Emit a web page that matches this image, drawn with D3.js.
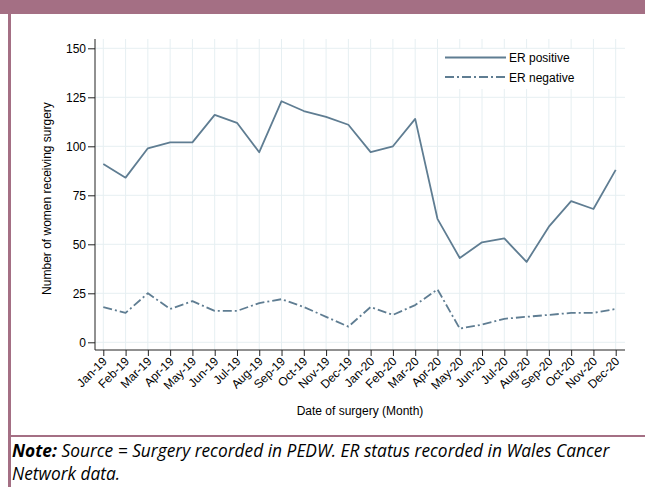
<!DOCTYPE html>
<html>
<head>
<meta charset="utf-8">
<title>ER status surgery</title>
<script src="https://cdnjs.cloudflare.com/ajax/libs/d3/7.8.5/d3.min.js"></script>
<style>
body { margin: 0; background: #fff; }
svg { display: block; }
.axis text { font-family: "Liberation Sans", Arial, sans-serif; font-size: 12px; fill: #000; }
.axis path, .axis line { stroke: #222; }
.grid line { stroke: #e6eff2; stroke-width: 1; }
.title { font-family: "Liberation Sans", Arial, sans-serif; font-size: 12px; fill: #000; }
.note { font-family: "Open Sans", "Noto Sans", sans-serif; font-style: italic; fill: #000; }
</style>
</head>
<body>
<svg width="645" height="487"></svg>
<script>
var months = ["Jan-19","Feb-19","Mar-19","Apr-19","May-19","Jun-19","Jul-19","Aug-19","Sep-19","Oct-19","Nov-19","Dec-19",
              "Jan-20","Feb-20","Mar-20","Apr-20","May-20","Jun-20","Jul-20","Aug-20","Sep-20","Oct-20","Nov-20","Dec-20"];
var erPositive = [91,84,99,102,102,116,112,97,123,118,115,111, 97,100,114,63,43,51,53,41,59,72,68,88];
var erNegative = [18,15,25,17,21,16,16,20,22,18,13,8, 18,14,19,27,7,9,12,13,14,15,15,17];
var yTicks = [0,25,50,75,100,125,150];
var seriesNames = ["ER positive", "ER negative"];

var frameColor = "#a46f84";
var lineColor = "#5f7d92";

var svg = d3.select("svg");

// frame
svg.append("rect").attr("x", 0).attr("y", 0).attr("width", 645).attr("height", 14).attr("fill", frameColor);
svg.append("rect").attr("x", 8).attr("y", 0).attr("width", 3).attr("height", 487).attr("fill", frameColor);
svg.append("rect").attr("x", 8).attr("y", 435).attr("width", 637).attr("height", 2).attr("fill", frameColor);

var x = d3.scalePoint().domain(months).range([103.3, 615.7]);
var y = d3.scaleLinear().domain([0, 150]).range([342.3, 48.3]);
var pLeft = 95, pRight = 625, pTop = 39, pBottom = 350;

// grid
var grid = svg.append("g").attr("class", "grid");
grid.selectAll(".h").data(yTicks).enter().append("line")
  .attr("x1", pLeft).attr("x2", pRight)
  .attr("y1", function(d) { return y(d); }).attr("y2", function(d) { return y(d); });
grid.selectAll(".v").data(months).enter().append("line")
  .attr("x1", function(d) { return x(d); }).attr("x2", function(d) { return x(d); })
  .attr("y1", pTop).attr("y2", pBottom);

// axes
var yAxis = svg.append("g").attr("class", "axis")
  .attr("transform", "translate(" + pLeft + ",0)")
  .call(d3.axisLeft(y).tickValues(yTicks).tickSize(7).tickPadding(2).tickSizeOuter(0));
yAxis.select(".domain").attr("d", "M0," + pTop + "V" + pBottom);

var xAxis = svg.append("g").attr("class", "axis")
  .attr("transform", "translate(0," + pBottom + ")")
  .call(d3.axisBottom(x).tickSize(6).tickSizeOuter(0));
xAxis.select(".domain").attr("d", "M" + pLeft + ",0H" + pRight);
xAxis.selectAll("text")
  .attr("text-anchor", "end")
  .attr("dy", null).attr("y", 0)
  .attr("transform", "translate(4,12) rotate(-45)");

// titles
svg.append("text").attr("class", "title")
  .attr("transform", "translate(51," + ((pTop + pBottom) / 2 + 4) + ") rotate(-90)")
  .attr("text-anchor", "middle")
  .text("Number of women receiving surgery");
svg.append("text").attr("class", "title")
  .attr("x", (pLeft + pRight) / 2).attr("y", 415)
  .attr("text-anchor", "middle")
  .text("Date of surgery (Month)");

// lines
var line = d3.line()
  .x(function(d, i) { return x(months[i]); })
  .y(function(d) { return y(d); });
var dashes = [null, "9,3,2,3"];
[erPositive, erNegative].forEach(function(s, i) {
  svg.append("path").datum(s)
    .attr("d", line)
    .attr("fill", "none")
    .attr("stroke", lineColor)
    .attr("stroke-width", 1.8)
    .attr("stroke-linejoin", "round")
    .attr("stroke-dasharray", dashes[i]);
});

// legend
var lg = svg.append("g");
lg.append("rect").attr("x", 441).attr("y", 49).attr("width", 150).attr("height", 40).attr("fill", "#fff");
seriesNames.forEach(function(name, i) {
  var ly = 57.5 + i * 19.5;
  lg.append("line").attr("x1", 445).attr("x2", 506).attr("y1", ly).attr("y2", ly)
    .attr("stroke", lineColor).attr("stroke-width", 1.8)
    .attr("stroke-dasharray", dashes[i]);
  lg.append("text").attr("class", "title").attr("x", 509).attr("y", ly + 4.5).text(name);
});

// note
var note = svg.append("text").attr("class", "note").attr("x", 12).attr("y", 457).style("font-size", "15px");
note.append("tspan").style("font-weight", "bold").text("Note:");
note.append("tspan").text(" Source = Surgery recorded in PEDW. ER status recorded in Wales Cancer");
var w = note.node().getComputedTextLength();
var fs = 15 * 598 / w;
note.style("font-size", fs + "px");
svg.append("text").attr("class", "note").attr("x", 12).attr("y", 480).style("font-size", fs + "px")
  .text("Network data.");
</script>
</body>
</html>
